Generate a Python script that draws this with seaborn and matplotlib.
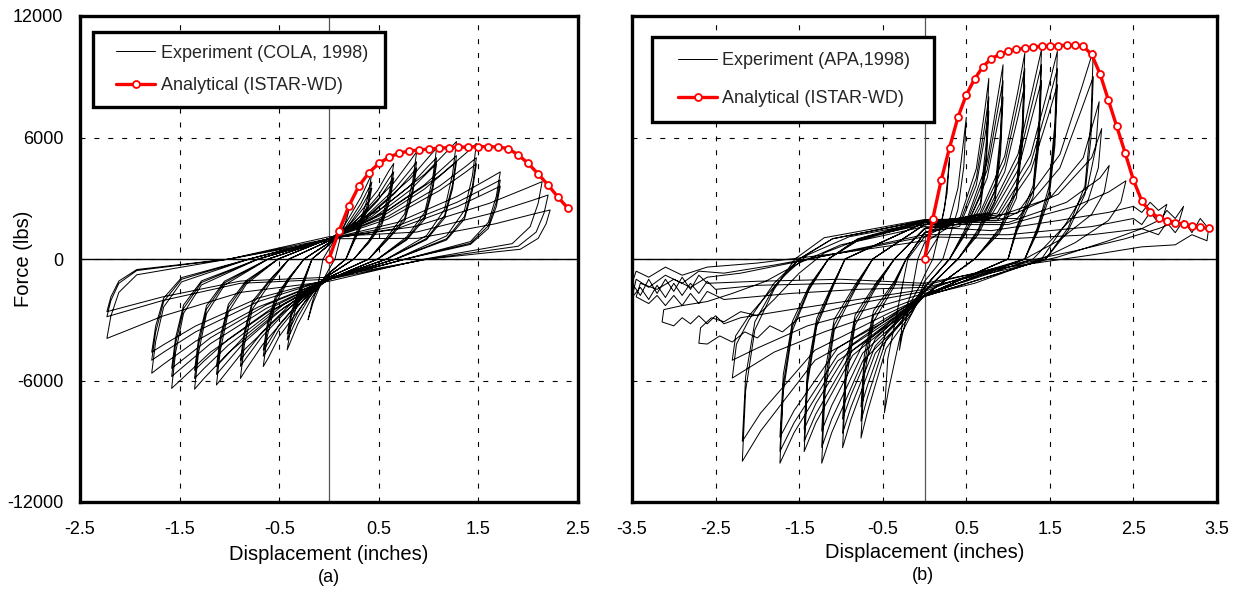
import matplotlib
matplotlib.use("Agg")
import matplotlib.pyplot as plt
from matplotlib.lines import Line2D
from matplotlib.legend_handler import HandlerLine2D
import pandas as pd
import seaborn as sns

# ---------------- data ----------------
y_ticks = [-12000, -6000, 0, 6000, 12000]
y_tick_labels = ["-12000", "-6000", "0", "6000", "12000"]
a_x_ticks = [-2.5, -1.5, -0.5, 0.5, 1.5, 2.5]
a_x_tick_labels = ["-2.5", "-1.5", "-0.5", "0.5", "1.5", "2.5"]
b_x_ticks = [-3.5, -2.5, -1.5, -0.5, 0.5, 1.5, 2.5, 3.5]
b_x_tick_labels = ["-3.5", "-2.5", "-1.5", "-0.5", "0.5", "1.5", "2.5", "3.5"]

# analytical backbone curves (ISTAR-WD)
ana_a_disp = [0.0, 0.1, 0.2, 0.3, 0.4, 0.5, 0.6, 0.7, 0.8, 0.9, 1.0, 1.1, 1.2,
              1.3, 1.4, 1.5, 1.6, 1.7, 1.8, 1.9, 2.0, 2.1, 2.2, 2.3, 2.4]
ana_a_force = [0, 1380, 2620, 3600, 4260, 4720, 5020, 5220, 5330, 5380, 5430, 5470,
               5500, 5520, 5530, 5550, 5550, 5530, 5450, 5140, 4720, 4200, 3650,
               3050, 2500]
ana_b_disp = [0.0, 0.1, 0.2, 0.3, 0.4, 0.5, 0.6, 0.7, 0.8, 0.9, 1.0, 1.1, 1.2,
              1.3, 1.4, 1.5, 1.6, 1.7, 1.8, 1.9, 2.0, 2.1, 2.2, 2.3, 2.4, 2.5,
              2.6, 2.7, 2.8, 2.9, 3.0, 3.1, 3.2, 3.3, 3.4]
ana_b_force = [0, 2000, 3900, 5500, 7000, 8100, 8900, 9500, 9900, 10100, 10250,
               10350, 10420, 10470, 10500, 10520, 10540, 10550, 10550, 10500,
               10100, 9150, 7850, 6550, 5250, 3900, 2870, 2330, 2040, 1900, 1800,
               1720, 1630, 1570, 1510]

# experimental load history (COLA, 1998): (displacement, force) vertices
cola_history = [
    (0, 0),
    (0.09, 1180), (0.165, 2020), (0.205, 2580), (0.22, 2800), (0.18, 2020), (0.12, 1180), (0.06, 0), (0, -500),
    (-0.085, -1260), (-0.16, -2160), (-0.195, -2760), (-0.21, -3000), (-0.17, -2160), (-0.11, -1260), (-0.06, 0), (0, 500),
    (0.17, 1780), (0.32, 3050), (0.40, 3890), (0.43, 4230), (0.39, 3050), (0.31, 1780), (0.17, 0), (0, -700),
    (-0.17, -1890), (-0.315, -3230), (-0.39, -4130), (-0.42, -4490), (-0.38, -3230), (-0.30, -1890), (-0.17, 0), (0, 700),
    (0.17, 1600), (0.32, 2740), (0.40, 3500), (0.43, 3800), (0.39, 2740), (0.31, 1600), (0.17, 0), (0, -700),
    (-0.17, -1680), (-0.315, -2880), (-0.39, -3680), (-0.42, -4000), (-0.38, -2880), (-0.30, -1680), (-0.17, 0), (0, 700),
    (0.17, 1470), (0.32, 2520), (0.40, 3220), (0.43, 3500), (0.39, 2520), (0.31, 1470), (0.17, 0), (0, -700),
    (-0.17, -1550), (-0.315, -2660), (-0.39, -3400), (-0.42, -3700), (-0.38, -2660), (-0.30, -1550), (-0.17, 0), (0, 700),
    (0.26, 1980), (0.49, 3400), (0.60, 4340), (0.65, 4720), (0.61, 3400), (0.53, 1980), (0.40, 900), (0.25, 0), (0, -800),
    (-0.26, -2230), (-0.50, -3820), (-0.61, -4890), (-0.66, -5310), (-0.62, -3820), (-0.54, -2230), (-0.40, -1000), (-0.25, 0), (0, 800),
    (0.26, 1810), (0.49, 3100), (0.60, 3960), (0.65, 4300), (0.61, 3100), (0.53, 1810), (0.40, 860), (0.25, 0), (0, -800),
    (-0.26, -2020), (-0.50, -3460), (-0.61, -4420), (-0.66, -4800), (-0.62, -3460), (-0.54, -2020), (-0.40, -960), (-0.25, 0), (0, 800),
    (0.26, 1680), (0.49, 2880), (0.60, 3680), (0.65, 4000), (0.61, 2880), (0.53, 1680), (0.40, 800), (0.25, 0), (0, -800),
    (-0.26, -1890), (-0.50, -3240), (-0.61, -4140), (-0.66, -4500), (-0.62, -3240), (-0.54, -1890), (-0.40, -900), (-0.25, 0), (0, 800),
    (0.35, 2230), (0.66, 3820), (0.82, 4880), (0.88, 5300), (0.84, 3820), (0.76, 2230), (0.58, 1060), (0.40, 0), (0, -900),
    (-0.36, -2480), (-0.67, -4250), (-0.83, -5430), (-0.89, -5900), (-0.85, -4250), (-0.77, -2480), (-0.59, -1180), (-0.40, 0), (0, 900),
    (0.35, 2020), (0.66, 3460), (0.82, 4420), (0.88, 4800), (0.84, 3460), (0.76, 2020), (0.58, 960), (0.40, 0), (0, -900),
    (-0.36, -2230), (-0.67, -3820), (-0.83, -4880), (-0.89, -5300), (-0.85, -3820), (-0.77, -2230), (-0.59, -1060), (-0.40, 0), (0, 900),
    (0.35, 1890), (0.66, 3240), (0.82, 4140), (0.88, 4500), (0.84, 3240), (0.76, 1890), (0.58, 900), (0.40, 0), (0, -900),
    (-0.36, -2100), (-0.67, -3600), (-0.83, -4600), (-0.89, -5000), (-0.85, -3600), (-0.77, -2100), (-0.59, -1000), (-0.40, 0), (0, 900),
    (0.43, 2300), (0.81, 3940), (1.00, 5030), (1.08, 5470), (1.04, 3940), (0.96, 2300), (0.78, 1090), (0.49, 0), (0, -1000),
    (-0.45, -2610), (-0.85, -4480), (-1.05, -5720), (-1.13, -6220), (-1.09, -4480), (-1.01, -2610), (-0.83, -1240), (-0.51, 0), (0, 1000),
    (0.43, 2100), (0.81, 3600), (1.00, 4600), (1.08, 5000), (1.04, 3600), (0.96, 2100), (0.78, 1000), (0.49, 0), (0, -1000),
    (-0.45, -2390), (-0.85, -4100), (-1.05, -5240), (-1.13, -5700), (-1.09, -4100), (-1.01, -2390), (-0.83, -1140), (-0.51, 0), (0, 1000),
    (0.43, 1970), (0.81, 3380), (1.00, 4320), (1.08, 4700), (1.04, 3380), (0.96, 1970), (0.78, 940), (0.49, 0), (0, -1000),
    (-0.45, -2230), (-0.85, -3820), (-1.05, -4880), (-1.13, -5300), (-1.09, -3820), (-1.01, -2230), (-0.83, -1060), (-0.51, 0), (0, 1000),
    (0.51, 2440), (0.96, 4180), (1.19, 5340), (1.28, 5800), (1.24, 4180), (1.16, 2440), (0.98, 1160), (0.58, 0), (0, -1000),
    (-0.54, -2700), (-1.01, -4630), (-1.26, -5920), (-1.35, -6430), (-1.31, -4630), (-1.23, -2700), (-1.05, -1290), (-0.61, 0), (0, 1000),
    (0.51, 2140), (0.96, 3670), (1.19, 4690), (1.28, 5100), (1.24, 3670), (1.16, 2140), (0.98, 1020), (0.58, 0), (0, -1000),
    (-0.54, -2480), (-1.01, -4250), (-1.26, -5430), (-1.35, -5900), (-1.31, -4250), (-1.23, -2480), (-1.05, -1180), (-0.61, 0), (0, 1000),
    (0.51, 2020), (0.96, 3460), (1.19, 4420), (1.28, 4800), (1.24, 3460), (1.16, 2020), (0.98, 960), (0.58, 0), (0, -1000),
    (-0.54, -2310), (-1.01, -3960), (-1.26, -5060), (-1.35, -5500), (-1.31, -3960), (-1.23, -2310), (-1.05, -1100), (-0.61, 0), (0, 1000),
    (0.59, 2400), (1.11, 4110), (1.38, 5250), (1.48, 5710), (1.44, 4110), (1.36, 2400), (1.18, 1140), (0.67, 0), (0, -1000),
    (-0.63, -2680), (-1.19, -4600), (-1.47, -5880), (-1.58, -6390), (-1.54, -4600), (-1.46, -2680), (-1.28, -1280), (-0.71, 0), (0, 1000),
    (0.59, 2100), (1.11, 3600), (1.38, 4600), (1.48, 5000), (1.44, 3600), (1.36, 2100), (1.18, 1000), (0.67, 0), (0, -1000),
    (-0.63, -2440), (-1.19, -4180), (-1.47, -5340), (-1.58, -5800), (-1.54, -4180), (-1.46, -2440), (-1.28, -1160), (-0.71, 0), (0, 1000),
    (0.59, 1970), (1.11, 3380), (1.38, 4320), (1.48, 4700), (1.44, 3380), (1.36, 1970), (1.18, 940), (0.67, 0), (0, -1000),
    (-0.63, -2270), (-1.19, -3890), (-1.47, -4970), (-1.58, -5400), (-1.54, -3890), (-1.46, -2270), (-1.28, -1080), (-0.71, 0), (0, 1000),
    (0.69, 1810), (1.29, 3100), (1.60, 3960), (1.72, 4300), (1.68, 3100), (1.60, 1810), (1.42, 860), (0.77, 0), (0, -1000),
    (-0.71, -2370), (-1.34, -4060), (-1.66, -5190), (-1.78, -5640), (-1.74, -4060), (-1.66, -2370), (-1.48, -1130), (-0.80, 0), (0, 1000),
    (0.69, 1640), (1.29, 2810), (1.60, 3590), (1.72, 3900), (1.68, 2810), (1.60, 1640), (1.42, 780), (0.77, 0), (0, -1000),
    (-0.71, -2100), (-1.34, -3600), (-1.66, -4600), (-1.78, -5000), (-1.74, -3600), (-1.66, -2100), (-1.48, -1000), (-0.80, 0), (0, 1000),
    (0.69, 1510), (1.29, 2590), (1.60, 3310), (1.72, 3600), (1.68, 2590), (1.60, 1510), (1.42, 720), (0.77, 0), (0, -1000),
    (-0.71, -1930), (-1.34, -3310), (-1.66, -4230), (-1.78, -4600), (-1.74, -3310), (-1.66, -1930), (-1.48, -920), (-0.80, 0), (0, 1000),
    (0.86, 1600), (1.61, 2750), (1.99, 3510), (2.14, 3820), (2.10, 2750), (2.02, 1600), (1.84, 760), (0.96, 0), (0, -1100),
    (-0.89, -1650), (-1.67, -2820), (-2.07, -3610), (-2.23, -3920), (-2.19, -2820), (-2.11, -1650), (-1.93, -780), (-1.00, 0), (0, 1100),
    (0.88, 1330), (1.65, 2280), (2.05, 2910), (2.20, 3160), (2.16, 2280), (2.08, 1330), (1.90, 630), (0.99, 0), (0, -1000),
    (-0.89, -1200), (-1.67, -2050), (-2.07, -2620), (-2.23, -2850), (-2.19, -2050), (-2.11, -1200), (-1.93, -570), (-1.00, 0), (0, 1000),
    (0.89, 1020), (1.67, 1740), (2.06, 2230), (2.22, 2420), (2.18, 1740), (2.10, 1020), (1.92, 480), (1.00, 0), (0, -900),
    (-0.89, -1090), (-1.67, -1870), (-2.07, -2390), (-2.23, -2600), (-2.19, -1870), (-2.11, -1090), (-1.93, -520), (-1.00, 0), (0, 900),
]

# experimental load history (APA, 1998): (displacement, force) vertices
apa_history = [
    (0, 0),
    (0.165, 1100), (0.24, 2500), (0.28, 4100), (0.30, 5000), (0.27, 3250), (0.20, 1750), (0.10, 0), (0, -800),
    (-0.06, -1350), (-0.18, -2250), (-0.27, -3830), (-0.30, -4500), (-0.26, -2930), (-0.15, -1580), (-0.08, 0), (0, 800),
    (0.275, 1540), (0.40, 3500), (0.465, 5740), (0.50, 7000), (0.47, 4550), (0.40, 2450), (0.22, 0), (0, -1100),
    (-0.10, -2280), (-0.29, -3800), (-0.43, -6460), (-0.48, -7600), (-0.44, -4940), (-0.33, -2660), (-0.20, 0), (0, 1100),
    (0.42, 1960), (0.62, 4460), (0.72, 7310), (0.77, 8920), (0.74, 5800), (0.67, 3120), (0.47, 1340), (0.30, 0), (0, -1400),
    (-0.15, -2650), (-0.46, -4420), (-0.68, -7510), (-0.76, -8840), (-0.72, -5750), (-0.61, -3090), (-0.36, -1330), (-0.22, 0), (0, 1300),
    (0.42, 1760), (0.62, 4000), (0.72, 6560), (0.77, 8000), (0.74, 5200), (0.67, 2800), (0.47, 1200), (0.30, 0), (0, -1400),
    (-0.15, -2400), (-0.46, -4000), (-0.68, -6800), (-0.76, -8000), (-0.72, -5200), (-0.61, -2800), (-0.36, -1200), (-0.22, 0), (0, 1300),
    (0.42, 1610), (0.62, 3650), (0.72, 5990), (0.77, 7300), (0.74, 4750), (0.67, 2560), (0.47, 1100), (0.30, 0), (0, -1400),
    (-0.15, -2190), (-0.46, -3650), (-0.68, -6210), (-0.76, -7300), (-0.72, -4750), (-0.61, -2560), (-0.36, -1100), (-0.22, 0), (0, 1300),
    (0.52, 2110), (0.75, 4800), (0.87, 7860), (0.94, 9590), (0.91, 6230), (0.84, 3360), (0.64, 1440), (0.40, 0), (0, -1600),
    (-0.20, -2800), (-0.59, -4660), (-0.88, -7920), (-0.98, -9320), (-0.94, -6060), (-0.83, -3260), (-0.58, -1400), (-0.36, 0), (0, 1500),
    (0.52, 1940), (0.75, 4400), (0.87, 7220), (0.94, 8800), (0.91, 5720), (0.84, 3080), (0.64, 1320), (0.40, 0), (0, -1600),
    (-0.20, -2580), (-0.59, -4300), (-0.88, -7310), (-0.98, -8600), (-0.94, -5590), (-0.83, -3010), (-0.58, -1290), (-0.36, 0), (0, 1500),
    (0.52, 1760), (0.75, 4000), (0.87, 6560), (0.94, 8000), (0.91, 5200), (0.84, 2800), (0.64, 1200), (0.40, 0), (0, -1600),
    (-0.20, -2370), (-0.59, -3950), (-0.88, -6720), (-0.98, -7900), (-0.94, -5140), (-0.83, -2770), (-0.58, -1190), (-0.36, 0), (0, 1500),
    (0.66, 2240), (0.96, 5080), (1.12, 8330), (1.20, 10160), (1.17, 6600), (1.10, 3560), (0.90, 1520), (0.60, 0), (0, -1800),
    (-0.25, -3030), (-0.74, -5040), (-1.11, -8570), (-1.23, -10085), (-1.19, -6560), (-1.08, -3530), (-0.83, -1510), (-0.62, 0), (0, 1700),
    (0.66, 2070), (0.96, 4700), (1.12, 7710), (1.20, 9400), (1.17, 6110), (1.10, 3290), (0.90, 1410), (0.60, 0), (0, -1800),
    (-0.25, -2790), (-0.74, -4650), (-1.11, -7900), (-1.23, -9300), (-1.19, -6050), (-1.08, -3260), (-0.83, -1400), (-0.62, 0), (0, 1700),
    (0.66, 1890), (0.96, 4300), (1.12, 7050), (1.20, 8600), (1.17, 5590), (1.10, 3010), (0.90, 1290), (0.60, 0), (0, -1800),
    (-0.25, -2550), (-0.74, -4250), (-1.11, -7230), (-1.23, -8500), (-1.19, -5530), (-1.08, -2980), (-0.83, -1280), (-0.62, 0), (0, 1700),
    (0.77, 2280), (1.12, 5180), (1.30, 8490), (1.40, 10350), (1.37, 6730), (1.30, 3620), (1.10, 1550), (1.00, 0), (0, -1800),
    (-0.29, -2850), (-0.86, -4760), (-1.30, -8080), (-1.44, -9510), (-1.40, -6180), (-1.29, -3330), (-1.10, -1430), (-0.95, 0), (0, 1800),
    (0.77, 2110), (1.12, 4800), (1.30, 7870), (1.40, 9600), (1.37, 6240), (1.30, 3360), (1.10, 1440), (1.00, 0), (0, -1800),
    (-0.29, -2700), (-0.86, -4500), (-1.30, -7650), (-1.44, -9000), (-1.40, -5850), (-1.29, -3150), (-1.10, -1350), (-0.95, 0), (0, 1800),
    (0.77, 1940), (1.12, 4400), (1.30, 7220), (1.40, 8800), (1.37, 5720), (1.30, 3080), (1.10, 1320), (1.00, 0), (0, -1800),
    (-0.29, -2520), (-0.86, -4200), (-1.30, -7140), (-1.44, -8400), (-1.40, -5460), (-1.29, -2940), (-1.10, -1260), (-0.95, 0), (0, 1800),
    (0.87, 2260), (1.27, 5130), (1.48, 8410), (1.59, 10260), (1.56, 6670), (1.49, 3590), (1.35, 1540), (1.20, 0), (0, -1800),
    (-0.35, -3030), (-1.04, -5040), (-1.56, -8570), (-1.73, -10085), (-1.69, -6560), (-1.58, -3530), (-1.38, -1510), (-1.15, 0), (-0.8, 1000), (0, 1900),
    (0.87, 2070), (1.27, 4700), (1.48, 7710), (1.59, 9400), (1.56, 6110), (1.49, 3290), (1.35, 1410), (1.20, 0), (0, -1800),
    (-0.35, -2850), (-1.04, -4750), (-1.56, -8080), (-1.73, -9500), (-1.69, -6180), (-1.58, -3330), (-1.38, -1430), (-1.15, 0), (-0.8, 950), (0, 1850),
    (0.87, 1890), (1.27, 4300), (1.48, 7050), (1.59, 8600), (1.56, 5590), (1.49, 3010), (1.35, 1290), (1.20, 0), (0, -1800),
    (-0.35, -2640), (-1.04, -4400), (-1.56, -7480), (-1.73, -8800), (-1.69, -5720), (-1.58, -3080), (-1.38, -1320), (-1.15, 0), (-0.8, 900), (0, 1800),
    (1.11, 2270), (1.62, 5160), (1.88, 8450), (2.02, 10310), (1.99, 6700), (1.92, 3610), (1.72, 1550), (1.45, 0), (0, -1850),
    (-0.44, -3000), (-1.31, -5000), (-1.96, -8490), (-2.18, -9990), (-2.14, -6490), (-2.03, -3500), (-1.80, -1500), (-1.55, 0), (-1.2, 1050), (0, 1950),
    (1.11, 2000), (1.62, 4500), (1.88, 7400), (2.02, 9000), (1.99, 5900), (1.92, 3200), (1.72, 1400), (1.45, 0), (0, -1850),
    (-0.44, -2700), (-1.31, -4500), (-1.96, -7600), (-2.18, -9000), (-2.14, -5800), (-2.03, -3100), (-1.80, -1400), (-1.50, 0), (-1.1, 1000), (0, 1900),
    (0.8, 2000), (1.5, 3000), (1.9, 5000), (2.09, 7770), (2.05, 5500), (1.95, 3500), (1.7, 1800), (1.4, 0), (0.6, -1200), (0, -1800),
    (-0.5, -2600), (-1.2, -3600), (-1.8, -4600), (-2.3, -5880), (-2.25, -4200), (-2.1, -3000), (-1.8, -1200), (-1.5, 0), (-1.1, 1000), (0, 1900),
    (0.9, 1900), (1.6, 3200), (2.0, 5000), (2.12, 6440), (2.08, 4500), (1.95, 2800), (1.6, 1300), (1.3, 0), (0.5, -1100), (0, -1700),
    (-0.6, -2400), (-1.4, -3300), (-2.0, -4400), (-2.3, -5000), (-2.26, -3800), (-2.1, -2800), (-1.7, -900), (-1.4, 200), (-0.9, 1100), (0, 1800),
    (1.0, 1800), (1.7, 2800), (2.1, 4000), (2.21, 4620), (2.15, 3300), (2.0, 2200), (1.6, 900), (1.2, 0), (0.4, -1000), (0, -1600),
    (-0.8, -2200), (-1.5, -2900), (-1.7, -3600), (-1.85, -3300), (-2.0, -3900), (-2.15, -3600), (-2.3, -4100), (-2.45, -3800),
    (-2.6, -4200), (-2.7, -4160), (-2.68, -3400), (-2.55, -2900), (-2.4, -3100), (-2.2, -2600), (-2.0, -2800), (-1.8, -2000),
    (-1.5, -700), (-1.2, 300), (-0.7, 1100), (0, 1700),
    (1.0, 1700), (1.8, 2600), (2.2, 3300), (2.41, 3860), (2.35, 2800), (2.2, 1900), (1.8, 800), (1.4, 0), (0.5, -900), (0, -1500),
    (-0.8, -2000), (-1.6, -2500), (-2.2, -2900), (-2.4, -3200), (-2.5, -2800), (-2.6, -3200), (-2.7, -2800), (-2.8, -3200),
    (-2.9, -2900), (-3.0, -3300), (-3.14, -3110), (-3.12, -2500), (-2.9, -2300), (-2.6, -2100), (-2.3, -1700), (-1.9, -1100),
    (-1.5, -200), (-1.0, 700), (0, 1600),
    (0.8, 1400), (1.6, 1900), (2.2, 2300), (2.5, 2600), (2.6, 2300), (2.7, 2800), (2.8, 2400), (2.9, 2700), (2.85, 2000),
    (2.6, 1500), (2.2, 900), (1.6, 100), (1.0, -500), (0, -1400),
    (-0.8, -1500), (-1.6, -1700), (-2.4, -2000), (-2.6, -1600), (-2.7, -2200), (-2.8, -1700), (-2.9, -2300), (-3.0, -1800),
    (-3.1, -2300), (-3.2, -1800), (-3.3, -2200), (-3.45, -1870), (-3.4, -1200), (-3.2, -1500), (-3.0, -1000), (-2.8, -1400),
    (-2.6, -900), (-2.2, -700), (-1.6, -200), (-0.8, 500), (0, 1200),
    (1.0, 1200), (2.0, 1600), (2.5, 2000), (2.6, 1700), (2.7, 2300), (2.8, 1800), (2.9, 2400), (3.0, 2000), (3.1, 2600),
    (3.05, 1900), (2.8, 1500), (2.4, 1000), (1.8, 400), (1.0, -300), (0, -1300),
    (-1.0, -1200), (-2.0, -1300), (-2.5, -1500), (-2.6, -1100), (-2.7, -1700), (-2.8, -1200), (-2.9, -1800), (-3.0, -1200),
    (-3.1, -1900), (-3.2, -1300), (-3.3, -2000), (-3.4, -1400), (-3.5, -1900), (-3.45, -1000), (-3.3, -1400), (-3.1, -800),
    (-2.9, -1200), (-2.7, -600), (-2.4, -700), (-1.8, -300), (-1.0, 300), (0, 1100),
    (1.0, 1000), (2.0, 1200), (2.6, 1500), (2.8, 1200), (2.9, 1800), (3.0, 1300), (3.1, 1900), (3.2, 1300), (3.3, 2000),
    (3.4, 1500), (3.38, 900), (3.2, 1200), (3.0, 700), (2.6, 600), (2.0, 200), (1.0, -400), (0, -1200),
    (-1.0, -1000), (-2.0, -1100), (-2.6, -1200), (-2.7, -800), (-2.8, -1500), (-2.9, -900), (-3.0, -1600), (-3.1, -1000),
    (-3.2, -1700), (-3.3, -1000), (-3.4, -1800), (-3.5, -1200), (-3.45, -600), (-3.3, -900), (-3.1, -400), (-2.9, -800),
    (-2.6, -400), (-2.0, -200), (-1.0, 300), (0, 900),
]

exp_a_label = "Experiment (COLA, 1998)"
exp_b_label = "Experiment (APA,1998)"
ana_label = "Analytical (ISTAR-WD)"

# ---------------- figure ----------------
sns.set_theme(style="white")
plt.rcParams["font.family"] = ["Liberation Sans", "DejaVu Sans"]
FS = 13
LFS = 14.5

W, H = 1241, 612
fig = plt.figure(figsize=(W / 100, H / 100), dpi=100)
ax_a = fig.add_axes([80 / W, 1 - 502 / H, 498 / W, 486 / H])
ax_b = fig.add_axes([632 / W, 1 - 502 / H, 585 / W, 486 / H])


def draw_panel(ax, history, ana_d, ana_f, exp_label, xticks, xlabels, ylabels,
               leg_box, leg_spacing, leg_pad, xlabelpad):
    exp_df = pd.DataFrame(history, columns=["disp", "force"])
    ana_df = pd.DataFrame({"disp": ana_d, "force": ana_f})
    ax.set_xlim(xticks[0], xticks[-1])
    ax.set_ylim(y_ticks[0], y_ticks[-1])
    ax.set_xticks(xticks)
    ax.set_xticklabels(xlabels)
    ax.set_yticks(y_ticks)
    ax.set_yticklabels(ylabels)
    ax.tick_params(axis="both", length=0, labelsize=FS, colors="black")
    ax.tick_params(axis="x", pad=14)
    ax.tick_params(axis="y", pad=12)
    ax.grid(True, color="black", linestyle=(0, (4.5, 8)), linewidth=0.8)
    ax.set_axisbelow(True)
    ax.axhline(0, color="black", linewidth=1.0, zorder=1.5)
    ax.axvline(0, color="#555555", linewidth=0.9, zorder=1.5)
    sns.lineplot(data=exp_df, x="disp", y="force", sort=False, estimator=None,
                 color="black", linewidth=0.72, ax=ax, label=exp_label, zorder=2)
    sns.lineplot(data=ana_df, x="disp", y="force", sort=False, estimator=None,
                 color="red", linewidth=2.4, marker="o", markersize=5,
                 markerfacecolor="white", markeredgecolor="red", markeredgewidth=1.3,
                 ax=ax, label=ana_label, zorder=3)
    for s in ax.spines.values():
        s.set_visible(True)
        s.set_color("black")
        s.set_linewidth(2.4)
    ax.set_xlabel("Displacement (inches)", fontsize=LFS, color="black", labelpad=xlabelpad)
    ax.set_ylabel("")
    leg = ax.legend(loc="upper left", bbox_to_anchor=leg_box, mode="expand",
                    fontsize=FS, frameon=True, fancybox=False, framealpha=1,
                    edgecolor="black", borderpad=leg_pad, labelspacing=leg_spacing,
                    handlelength=2.75, handletextpad=0.3, borderaxespad=0,
                    handler_map={Line2D: HandlerLine2D(xpad=0.6)})
    leg.get_frame().set_linewidth(2.4)
    return ax


draw_panel(ax_a, cola_history, ana_a_disp, ana_a_force, exp_a_label,
           a_x_ticks, a_x_tick_labels, y_tick_labels,
           ((93 - 80) / 498, (502 - 106) / 486, 292 / 498, 74 / 486), 0.85, 0.7, 5)
draw_panel(ax_b, apa_history, ana_b_disp, ana_b_force, exp_b_label,
           b_x_ticks, b_x_tick_labels, [],
           ((652 - 632) / 585, (502 - 116) / 486, 282 / 585, 79 / 486), 1.15, 0.85, 3)

ax_a.set_ylabel("Force (lbs)", fontsize=LFS, color="black")
ax_a.yaxis.set_label_coords(-0.095, 0.5)

fig.text(329 / W, 1 - 577 / H, "(a)", ha="center", va="center", fontsize=FS, color="black")
fig.text(923 / W, 1 - 576 / H, "(b)", ha="center", va="center", fontsize=FS, color="black")

fig.savefig("out.png", dpi=100, facecolor="white")
